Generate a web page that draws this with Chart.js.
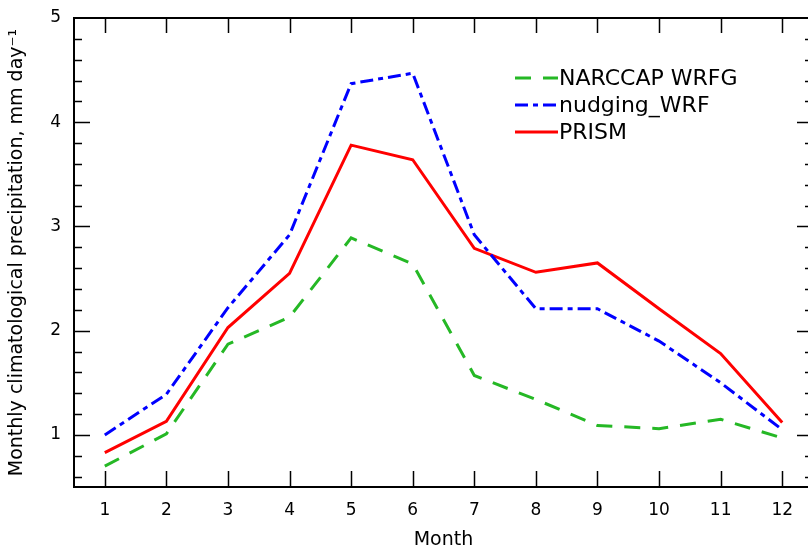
<!DOCTYPE html>
<html><head><meta charset="utf-8">
<script src="https://cdn.jsdelivr.net/npm/chart.js@4"></script>
<style>
html,body{margin:0;padding:0;overflow:hidden;background:#fff;width:808px;height:551px}
#wrap{position:relative;width:814px;height:551px}
</style></head>
<body><div id="wrap"><canvas id="c" width="814" height="551"></canvas></div>
<script>
const months = [1,2,3,4,5,6,7,8,9,10,11,12];
const monthTickLabels = ['1','2','3','4','5','6','7','8','9','10','11','12'];
const yTickValues = [1,2,3,4,5];
const seriesNames = ['NARCCAP WRFG','nudging_WRF','PRISM'];
const narccapWRFG = [0.70,1.01,1.87,2.13,2.89,2.64,1.57,1.34,1.09,1.06,1.15,0.97];
const nudgingWRF  = [1.00,1.39,2.22,2.92,4.37,4.47,2.92,2.21,2.21,1.90,1.50,1.05];
const prism       = [0.83,1.13,2.03,2.55,3.78,3.64,2.79,2.56,2.65,2.21,1.78,1.12];
const xTitle = 'Month';
const yTitle = 'Monthly climatological precipitation, mm day\u207B\u00B9';

const FONT = '"DejaVu Sans", sans-serif';
const toXY = vals => months.map((m,i)=>({x:m,y:vals[i]}));

const frameTicks = {
  id:'frameTicks',
  afterDatasetsDraw(chart){
    const {ctx, chartArea:a, scales:{x,y}} = chart;
    ctx.save();
    ctx.strokeStyle = '#000';
    ctx.lineWidth = 1.5;
    ctx.beginPath();
    months.forEach(m=>{
      const px = Math.round(x.getPixelForValue(m))+0.5;
      ctx.moveTo(px,a.bottom); ctx.lineTo(px,a.bottom-16);
      ctx.moveTo(px,a.top); ctx.lineTo(px,a.top+15);
    });
    for(let k=3;k<=24;k++){
      const v = k/5;
      const py = Math.round(y.getPixelForValue(v))+0.5;
      const len = (k%5===0)?16:8;
      ctx.moveTo(a.left,py); ctx.lineTo(a.left+len,py);
      ctx.moveTo(a.right,py); ctx.lineTo(a.right-len,py);
    }
    ctx.stroke();
    ctx.lineWidth = 2;
    ctx.strokeRect(a.left, a.top, a.right-a.left, a.bottom-a.top);
    ctx.restore();
  }
};

const customLegend = {
  id:'customLegend',
  afterDraw(chart){
    const {ctx} = chart;
    const rows = [78,105,132];
    ctx.save();
    chart.data.datasets.forEach((ds,i)=>{
      const yy = rows[i];
      ctx.strokeStyle = ds.borderColor;
      ctx.lineWidth = 3;
      ctx.setLineDash(ds.borderDash||[]);
      ctx.beginPath(); ctx.moveTo(515,yy); ctx.lineTo(558,yy); ctx.stroke();
      ctx.setLineDash([]);
      ctx.fillStyle = '#000';
      ctx.font = '22px ' + FONT;
      ctx.textBaseline = 'middle';
      ctx.textAlign = 'left';
      ctx.fillText(ds.label, 559, yy+1);
    });
    ctx.restore();
  }
};

new Chart(document.getElementById('c'), {
  type:'line',
  data:{
    datasets:[
      {label:seriesNames[0], data:toXY(narccapWRFG), borderColor:'#25b825', borderWidth:3, borderDash:[16,12], pointRadius:0, fill:false, tension:0},
      {label:seriesNames[1], data:toXY(nudgingWRF), borderColor:'#0000ff', borderWidth:3, borderDash:[13,5,5,5], pointRadius:0, fill:false, tension:0},
      {label:seriesNames[2], data:toXY(prism), borderColor:'#ff0000', borderWidth:3, pointRadius:0, fill:false, tension:0}
    ]
  },
  options:{
    responsive:false,
    animation:false,
    layout:{padding:{top:18,right:1,left:0,bottom:0}},
    plugins:{legend:{display:false}, tooltip:{enabled:false}},
    scales:{
      x:{
        type:'linear', min:0.5, max:12.5,
        afterBuildTicks(s){ s.ticks = months.map(v=>({value:v})); },
        afterFit(s){ s.height = 64; s.paddingLeft = 0; s.paddingRight = 0; },
        grid:{display:false, drawTicks:false},
        border:{display:false},
        ticks:{font:{family:FONT,size:17}, color:'#000', padding:13, maxRotation:0, autoSkip:false,
          callback:(v)=>monthTickLabels[months.indexOf(v)] ?? ''},
        title:{display:true, text:xTitle, font:{family:FONT,size:19}, color:'#000', padding:{top:4,bottom:0}}
      },
      y:{
        type:'linear', min:0.5, max:5,
        afterBuildTicks(s){ s.ticks = yTickValues.map(v=>({value:v})); },
        afterFit(s){ s.width = 74; s.paddingTop = 0; s.paddingBottom = 0; },
        grid:{display:false, drawTicks:false},
        border:{display:false},
        ticks:{font:{family:FONT,size:17}, color:'#000', padding:13, autoSkip:false,
          callback:(v)=>String(v)},
        title:{display:true, text:yTitle, font:{family:FONT,size:19}, color:'#000', padding:{top:6,bottom:0}}
      }
    }
  },
  plugins:[frameTicks, customLegend]
});
</script>
</body></html>
